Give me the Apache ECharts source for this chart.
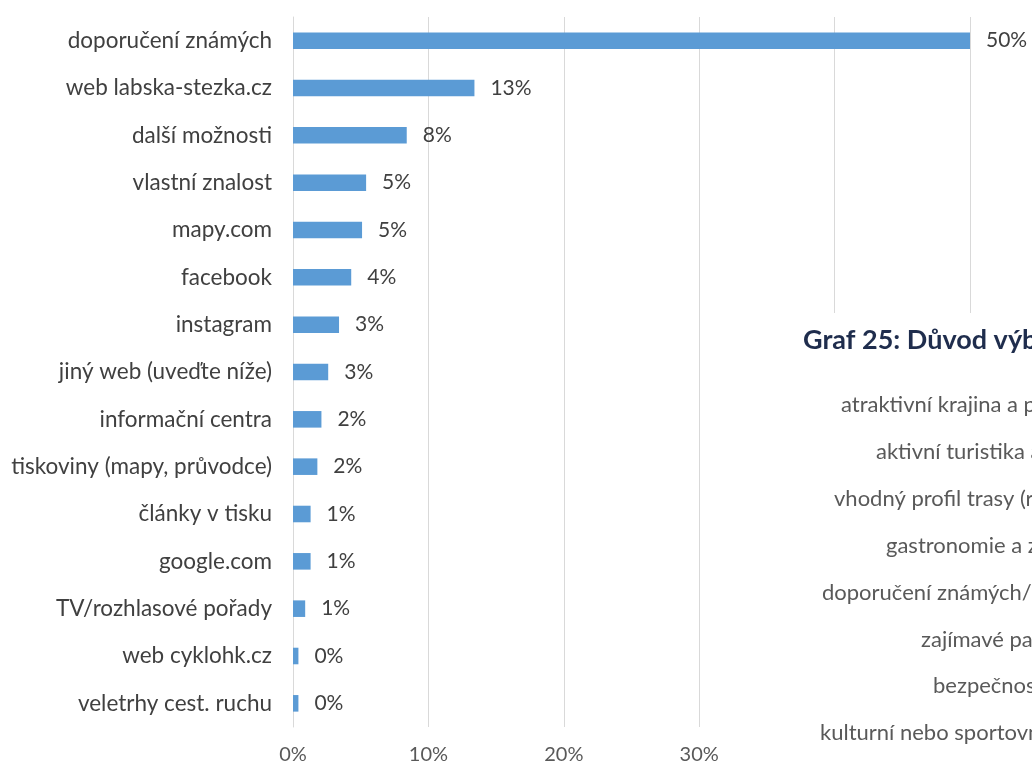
<!DOCTYPE html>
<html>
<head>
<meta charset="utf-8">
<script src="https://cdn.jsdelivr.net/npm/echarts@6/dist/echarts.min.js"></script>
<style>
html,body{margin:0;padding:0;background:#fff;}
#chart{width:1032px;height:766px;}
</style>
</head>
<body>
<div id="chart"></div>
<script>
// Categories (top to bottom as shown)
var categories = [
  "doporučení známých",
  "web labska-stezka.cz",
  "další možnosti",
  "vlastní znalost",
  "mapy.com",
  "facebook",
  "instagram",
  "jiný web (uveďte níže)",
  "informační centra",
  "tiskoviny (mapy, průvodce)",
  "články v tisku",
  "google.com",
  "TV/rozhlasové pořady",
  "web cyklohk.cz",
  "veletrhy cest. ruchu"
];
// Values in percent
var values = [50, 13.4, 8.4, 5.4, 5.1, 4.3, 3.4, 2.6, 2.1, 1.8, 1.3, 1.3, 0.9, 0.4, 0.4];
var xTicks = [0, 10, 20, 30, 40, 50];

// Overlapping second-chart fragment (clipped by the page edge)
var overlayTitle = "Graf 25: Důvod výběru";
var overlayLabels = [
  "atraktivní krajina a příroda",
  "aktivní turistika a sport",
  "vhodný profil trasy (rovinatý)",
  "gastronomie a zážitky",
  "doporučení známých/přátel",
  "zajímavé památky",
  "bezpečnost",
  "kulturní nebo sportovní akce"
];
var overlayStartX = [841, 876, 834, 886, 822, 921, 933, 820];

var chart = echarts.init(document.getElementById('chart'), null, {renderer: 'canvas'});
var FONT = 'Lato';

var graphics = [
  {type: 'rect', left: 785, top: 313, shape: {width: 260, height: 460}, style: {fill: '#ffffff'}, z: 100},
  {type: 'text', x: 803, y: 340, style: {text: overlayTitle, font: 'bold 27px ' + FONT, fill: '#1f2d4d', verticalAlign: 'middle'}, z: 101}
];
for (var i = 0; i < overlayLabels.length; i++) {
  graphics.push({type: 'text', x: overlayStartX[i], y: 405 + i * 46.9,
    style: {text: overlayLabels[i], font: '22px ' + FONT, fill: '#595959', verticalAlign: 'middle'}, z: 101});
}

chart.setOption({
  animation: false,
  backgroundColor: '#ffffff',
  grid: {left: 293, right: 62, top: 17, bottom: 39, containLabel: false},
  xAxis: {
    type: 'value', min: 0, max: 50, interval: 10,
    axisLine: {show: false}, axisTick: {show: false},
    splitLine: {show: true, lineStyle: {color: '#d9d9d9', width: 1}},
    axisLabel: {formatter: '{value}%', color: '#595959', fontFamily: FONT, fontSize: 20, margin: 18}
  },
  yAxis: {
    type: 'category', data: categories, inverse: true,
    axisLine: {show: true, lineStyle: {color: '#d9d9d9'}}, axisTick: {show: false},
    axisLabel: {color: '#404040', fontFamily: FONT, fontSize: 22.5, margin: 21}
  },
  series: [{
    type: 'bar', data: values, barWidth: '35%',
    itemStyle: {color: '#5b9bd5'},
    label: {show: true, position: 'right', distance: 16, color: '#404040', fontFamily: FONT, fontSize: 21,
      formatter: function (p) { return Math.round(p.value) + '%'; }}
  }],
  graphic: graphics
});
</script>
</body>
</html>
